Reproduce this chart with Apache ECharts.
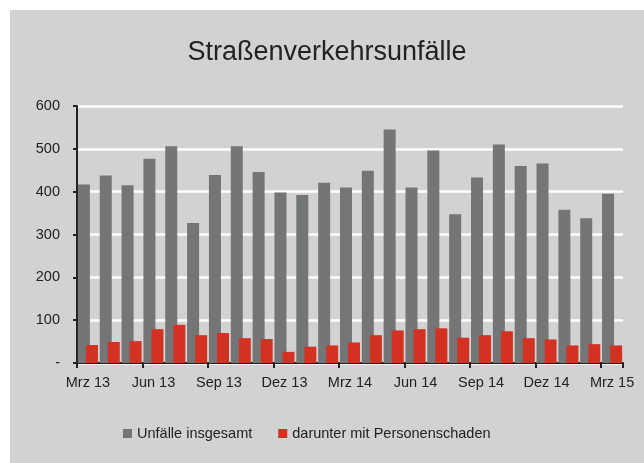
<!DOCTYPE html>
<html>
<head>
<meta charset="utf-8">
<script src="https://cdn.jsdelivr.net/npm/echarts@6/dist/echarts.min.js"></script>
<style>
  html, body { margin: 0; padding: 0; background: #fff; }
  #chart { position: absolute; left: 10px; top: 10px; width: 634px; height: 453px; background: #d1d2d1; }
</style>
</head>
<body>
<div id="chart"></div>
<script>
// Monate Mrz 13 bis Mrz 15
const months = ['Mrz 13', 'Apr 13', 'Mai 13', 'Jun 13', 'Jul 13', 'Aug 13', 'Sep 13', 'Okt 13', 'Nov 13',
  'Dez 13', 'Jan 14', 'Feb 14', 'Mrz 14', 'Apr 14', 'Mai 14', 'Jun 14', 'Jul 14', 'Aug 14',
  'Sep 14', 'Okt 14', 'Nov 14', 'Dez 14', 'Jan 15', 'Feb 15', 'Mrz 15']
const unfaelle = [417, 438, 415, 477, 506, 327, 439, 506, 446, 398, 392, 421, 410,
  449, 545, 410, 496, 347, 433, 510, 460, 466, 358, 338, 395]
const personenschaden = [42, 49, 51, 79, 89, 65, 70, 58, 56, 26, 38, 41, 48,
  65, 76, 79, 81, 59, 65, 74, 58, 55, 41, 44, 41]
const yTicks = [0, 100, 200, 300, 400, 500, 600]

const chart = echarts.init(document.getElementById('chart'))
const font = 'Liberation Sans, Arial, sans-serif'

chart.setOption({
  backgroundColor: '#d1d2d1',
  animation: false,
  title: {
    text: 'Straßenverkehrsunfälle',
    left: 'center',
    top: 24,
    textStyle: { fontFamily: font, fontSize: 27, fontWeight: 'normal', color: '#222' }
  },
  legend: {
    bottom: 17,
    left: 108,
    itemWidth: 9,
    itemHeight: 9,
    itemGap: 26,
    icon: 'rect',
    textStyle: { fontFamily: font, fontSize: 14.5, color: '#222' },
    data: ['Unfälle insgesamt', 'darunter mit Personenschaden']
  },
  grid: { left: 67, right: 21, top: 96, bottom: 100, containLabel: false },
  xAxis: {
    type: 'category',
    data: months,
    boundaryGap: true,
    axisLine: { lineStyle: { color: '#222', width: 2 } },
    axisTick: { show: true, interval: 2, length: 5, lineStyle: { color: '#222', width: 2 } },
    axisLabel: { interval: 2, color: '#222', fontFamily: font, fontSize: 14.5, margin: 12 },
    splitLine: { show: false }
  },
  yAxis: {
    type: 'value',
    min: yTicks[0],
    max: yTicks[yTicks.length - 1],
    interval: 100,
    axisLine: { show: true, lineStyle: { color: '#222', width: 2 } },
    axisTick: { show: true, length: 4, lineStyle: { color: '#222', width: 2 } },
    axisLabel: {
      color: '#222', fontFamily: font, fontSize: 14.5, margin: 17,
      formatter: v => (v === 0 ? '-' : v)
    },
    splitLine: { show: true, lineStyle: { color: '#ffffff', width: 2.5 } }
  },
  series: [
    {
      name: 'Unfälle insgesamt',
      type: 'bar',
      data: unfaelle,
      barWidth: 12,
      barGap: '-33%',
      itemStyle: { color: '#737577' }
    },
    {
      name: 'darunter mit Personenschaden',
      type: 'bar',
      data: personenschaden,
      barWidth: 12,
      barGap: '-33%',
      itemStyle: { color: '#d33222' }
    }
  ]
})
</script>
</body>
</html>
